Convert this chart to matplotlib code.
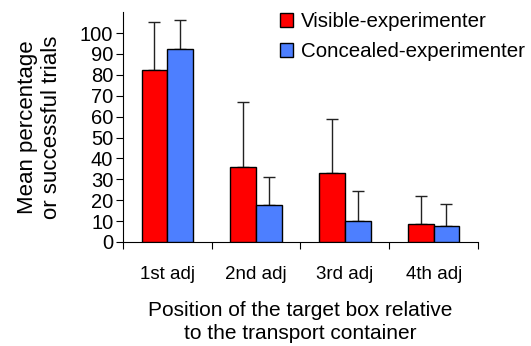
import numpy as np
import matplotlib.pyplot as plt

plt.rcParams['font.family'] = ['Liberation Sans', 'DejaVu Sans']

# Mittelwerte und obere Fehlerbalken (SD)
categories = ["1st adj", "2nd adj", "3rd adj", "4th adj"]
visible = [82.4, 35.9, 32.9, 8.7]
visible_err = [23.0, 30.9, 26.0, 13.3]
concealed = [92.5, 17.9, 10.0, 7.6]
concealed_err = [13.8, 13.2, 14.3, 10.4]

x = np.arange(len(categories)) + 0.5
w = 0.29

fig = plt.figure(figsize=(5.31, 3.46), dpi=100)
ax = fig.add_axes([0.2316, 0.3006, 0.6686, 0.6644])

ax.bar(x - w / 2, visible, w, color='#ff0000', edgecolor='black', linewidth=1,
       label="Visible-experimenter", zorder=3)
ax.bar(x + w / 2, concealed, w, color='#4d7fff', edgecolor='black', linewidth=1,
       label="Concealed-experimenter", zorder=3)

ax.errorbar(x - w / 2, visible, yerr=[np.zeros(4), visible_err], fmt='none',
            ecolor='#222222', elinewidth=1, capsize=4, capthick=1, zorder=2)
ax.errorbar(x + w / 2, concealed, yerr=[np.zeros(4), concealed_err], fmt='none',
            ecolor='#222222', elinewidth=1, capsize=4, capthick=1, zorder=2)

ax.set_xlim(0, 4)
ax.set_ylim(0, 110)
ax.set_yticks(range(0, 101, 10))
ax.set_xticks(range(5))
ax.set_xticklabels([])
ax.set_xticks(x, minor=True)
ax.set_xticklabels(categories, minor=True)
ax.tick_params(axis='x', which='minor', length=0, pad=17, labelsize=13.5)
ax.tick_params(axis='x', which='major', length=5, direction='out')
ax.tick_params(axis='y', length=5, direction='out', labelsize=14.5, pad=2)

for s in ['top', 'right']:
    ax.spines[s].set_visible(False)

ax.set_ylabel("Mean percentage\nor successful trials", fontsize=16, labelpad=13,
              linespacing=1.15)
ax.set_xlabel("Position of the target box relative\nto the transport container",
              fontsize=15, labelpad=13, linespacing=1.3)

fig.legend(loc='upper left', bbox_to_anchor=(0.508, 0.995), frameon=False,
           fontsize=14.8, handlelength=0.65, handleheight=0.65,
           handletextpad=0.35, labelspacing=0.55, borderpad=0)

fig.savefig("out.png", dpi=100)
